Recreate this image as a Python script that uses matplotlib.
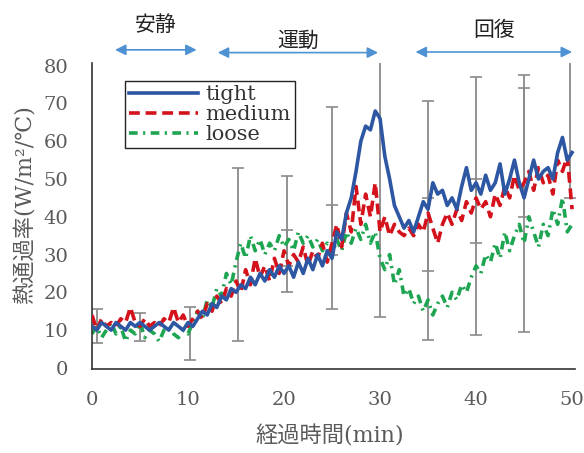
import numpy as np
import matplotlib
matplotlib.use("Agg")
import matplotlib.pyplot as plt

plt.rcParams['font.family'] = ['DejaVu Serif', 'Noto Sans CJK JP']

# 経過時間 (min), 0.5分刻み
t = np.linspace(0, 50, 101)

tight = [11, 10, 12, 11, 10, 12, 11, 10, 12, 11, 12, 11, 10, 11, 12, 11, 10, 12, 11, 10, 12,
         11, 13, 15, 14, 17, 16, 19, 18, 21, 20, 22, 21, 24, 22, 25, 23, 26, 24, 27, 25,
         27, 24, 28, 25, 29, 26, 30, 27, 31, 29,
         36, 34, 41, 45, 52, 60, 64, 63, 68, 66, 56, 50, 43, 40, 37, 39, 36, 40, 44, 42,
         49, 46, 47, 43, 45, 42, 48, 53, 47, 49, 46, 51, 47, 49, 54, 46, 50, 55, 49, 45,
         50, 55, 50, 52, 53, 50, 57, 61, 55, 57]

medium = [14, 10, 13, 11, 12, 11, 13, 12, 16, 12, 11, 13, 11, 12, 11, 13, 12, 16, 12, 14, 11,
          13, 15, 13, 17, 15, 19, 17, 21, 19, 23, 20, 26, 22, 29, 24, 27, 23, 29, 25, 31,
          27, 30, 28, 32, 27, 31, 29, 33, 28, 33,
          38, 32, 41, 36, 48, 38, 46, 40, 49, 36, 40, 35, 38, 36, 35, 37, 35, 38, 36, 41,
          37, 33, 38, 41, 38, 42, 39, 44, 41, 45, 42, 44, 40, 46, 43, 48, 45, 51, 47, 49,
          52, 47, 53, 49, 51, 46, 55, 52, 56, 42]

loose = [9, 11, 8, 10, 12, 9, 11, 7, 10, 9, 12, 8, 10, 9, 7, 10, 11, 9, 8, 10, 9,
         12, 15, 13, 18, 16, 21, 19, 25, 22, 28, 33, 29, 35, 31, 34, 30, 33, 31, 35, 32,
         34, 31, 36, 33, 35, 32, 34, 31, 33, 30,
         34, 31, 36, 33, 37, 34, 38, 33, 36, 29, 26, 30, 22, 26, 19, 21, 17, 19, 15, 18,
         14, 17, 19, 16, 20, 18, 22, 20, 24, 27, 25, 30, 28, 33, 29, 36, 31, 35, 38, 33,
         40, 36, 32, 38, 35, 42, 38, 45, 36, 38]

# 標準偏差バー (時刻, 下端, 上端)
err_t = [0.5, 5, 10.2, 15.2, 20.3, 20.3, 25, 25, 30, 35, 35, 40, 40, 45, 45, 49.8]
err_lo = [6.6, 7, 2.1, 7, 20, 27, 15.5, 30, 13.4, 7.5, 25.6, 8.8, 33, 9.6, 40, 45]
err_hi = [15.7, 14.6, 16, 53, 50.7, 36.5, 69, 43, 90, 70.7, 45, 77, 50, 77.6, 74, 90]

phases = ['安静', '運動', '回復']
phase_start = [2.4, 13.1, 33.7]
phase_end = [10.9, 29.8, 50]

fig = plt.figure(figsize=(5.84, 4.53), dpi=100)
ax = fig.add_axes([0.1575, 0.1854, 0.827, 0.6755])

err_t = np.array(err_t)
lo = np.array(err_lo)
hi = np.array(err_hi)
ax.errorbar(err_t, (lo + hi) / 2, yerr=(hi - lo) / 2, fmt='none', ecolor='#8a8a8a',
            elinewidth=1.3, capsize=4.5, capthick=1.2, zorder=1)

ax.plot(t, loose, color='#1ea552', lw=2.6, dashes=(2.4, 1.5, 0.6, 1.5), label='loose', zorder=2)
ax.plot(t, medium, color='#d3121c', lw=2.6, dashes=(3, 1.6), label='medium', zorder=3)
ax.plot(t, tight, color='#2d56a3', lw=2.6, label='tight', zorder=4)

ax.set_xlim(0, 50.3)
ax.set_ylim(-0.3, 80.7)
ax.set_xticks([0, 10, 20, 30, 40, 50])
ax.set_yticks(range(0, 81, 10))
ax.tick_params(length=0, labelsize=14, labelcolor='#5a5a5a')
ax.tick_params(axis='y', pad=17)
ax.tick_params(axis='x', pad=16)
for s in ['top', 'right']:
    ax.spines[s].set_visible(False)
for s in ['left', 'bottom']:
    ax.spines[s].set_color('#333333')
    ax.spines[s].set_linewidth(1.2)

ax.set_ylabel('熱通過率(W/m²/℃)', fontsize=16, color='#5a5a5a')
ax.yaxis.set_label_coords(-0.114, 0.536)
ax.set_xlabel('経過時間(min)', fontsize=16, color='#5a5a5a')
ax.xaxis.set_label_coords(0.493, -0.183)

h, l = ax.get_legend_handles_labels()
leg = ax.legend(h[::-1], l[::-1], loc='upper left', bbox_to_anchor=(0.069, 0.942),
                fontsize=15, handlelength=3.3, handletextpad=0.35, labelspacing=0.05,
                borderpad=0.2, borderaxespad=0, fancybox=False, edgecolor='#222222',
                framealpha=1)
leg.get_frame().set_linewidth(1.0)
for txt in leg.get_texts():
    txt.set_color('#333333')

arrow_y = [1.043, 1.034, 1.036]
text_y = [1.124, 1.072, 1.108]
for name, a, b, ay, ty in zip(phases, phase_start, phase_end, arrow_y, text_y):
    ax.annotate('', xy=(b, ay), xytext=(a, ay), xycoords=('data', 'axes fraction'),
                textcoords=('data', 'axes fraction'),
                arrowprops=dict(arrowstyle='<|-|>', color='#4f92d3', lw=1.2,
                                mutation_scale=16, shrinkA=0, shrinkB=0),
                annotation_clip=False)
    ax.annotate(name, xy=((a + b) / 2, ty), xycoords=('data', 'axes fraction'),
                ha='center', va='center', fontsize=15, color='#222222',
                annotation_clip=False)

fig.savefig('out.png', dpi=100)
